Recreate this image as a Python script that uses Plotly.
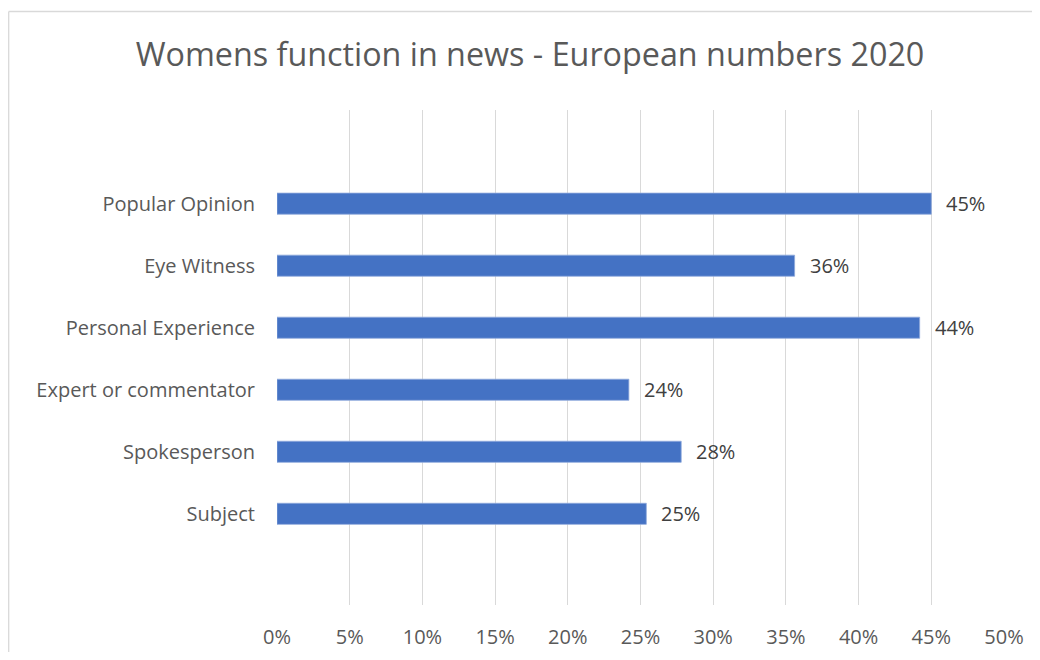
import plotly.graph_objects as go

categories = ["Subject", "Spokesperson", "Expert or commentator",
              "Personal Experience", "Eye Witness", "Popular Opinion"]
values = [0.254, 0.278, 0.242, 0.442, 0.356, 0.450]
tick_vals = [0, 0.05, 0.10, 0.15, 0.20, 0.25, 0.30, 0.35, 0.40, 0.45, 0.50]
tick_text = ["0%", "5%", "10%", "15%", "20%", "25%", "30%", "35%", "40%", "45%", "50%"]
title_text = "Womens function in news - European numbers 2020"

# page has an 8px body margin, so figure coordinates are offset by 8px
OFF = 8
W, H = 1040 - 2 * OFF, 660 - 2 * OFF
L, T = 277 - OFF, 110 - OFF
R = W - L - (1004 - 277)
B = H - (605 - OFF)
FONT = "Open Sans"
TXT = "#595959"

fig = go.Figure()
fig.add_trace(go.Bar(
    x=values, y=categories, orientation="h",
    marker=dict(color="#4472C4", line=dict(color="#8FAADC", width=0.8)),
    width=0.34, hoverinfo="skip",
))

for v, c in zip(values, categories):
    fig.add_annotation(x=v, y=c, xref="x", yref="y", text=f"{round(v*100):.0f}%",
                       showarrow=False, xanchor="left", xshift=13,
                       font=dict(family=FONT, size=20, color="#404040"))

pw = W - L - R
ph = H - T - B
def px_x(p):
    return (p - OFF - L) / pw
def px_y(p):
    return (H - B - (p - OFF)) / ph

frame = dict(color="#D9D9D9", width=1.3)
# chart-area frame (top and left edges; right/bottom fall outside the picture)
fig.add_shape(type="line", xref="paper", yref="paper",
              x0=px_x(8.7), x1=px_x(1040), y0=px_y(11.5), y1=px_y(11.5),
              line=frame, layer="above")
fig.add_shape(type="line", xref="paper", yref="paper",
              x0=px_x(8.7), x1=px_x(8.7), y0=px_y(11.5), y1=px_y(660),
              line=frame, layer="above")

fig.update_layout(
    width=W, height=H,
    margin=dict(l=L, r=R, t=T, b=B, autoexpand=False),
    paper_bgcolor="white", plot_bgcolor="white",
    showlegend=False,
    title=dict(text=title_text, x=(530 - OFF) / W, xanchor="center", xref="container",
               y=1 - (55 - OFF) / H, yanchor="middle", yref="container",
               font=dict(family=FONT, size=32.3, color=TXT)),
    font=dict(family=FONT, color=TXT),
)
fig.update_xaxes(range=[0, 0.5], tickvals=tick_vals, ticktext=tick_text,
                 showgrid=True, gridcolor="#D9D9D9", gridwidth=1.3,
                 zeroline=False, showline=False, ticks="", automargin=False,
                 tickfont=dict(family=FONT, size=20, color=TXT),
                 ticklabelstandoff=18, fixedrange=True)
fig.update_yaxes(type="category", categoryorder="array", categoryarray=categories,
                 range=[-1.47, 6.51], showgrid=False, zeroline=False,
                 showline=False, ticks="", automargin=False,
                 tickfont=dict(family=FONT, size=20, color=TXT),
                 ticklabelstandoff=21, fixedrange=True)

fig.write_html("out.html")
